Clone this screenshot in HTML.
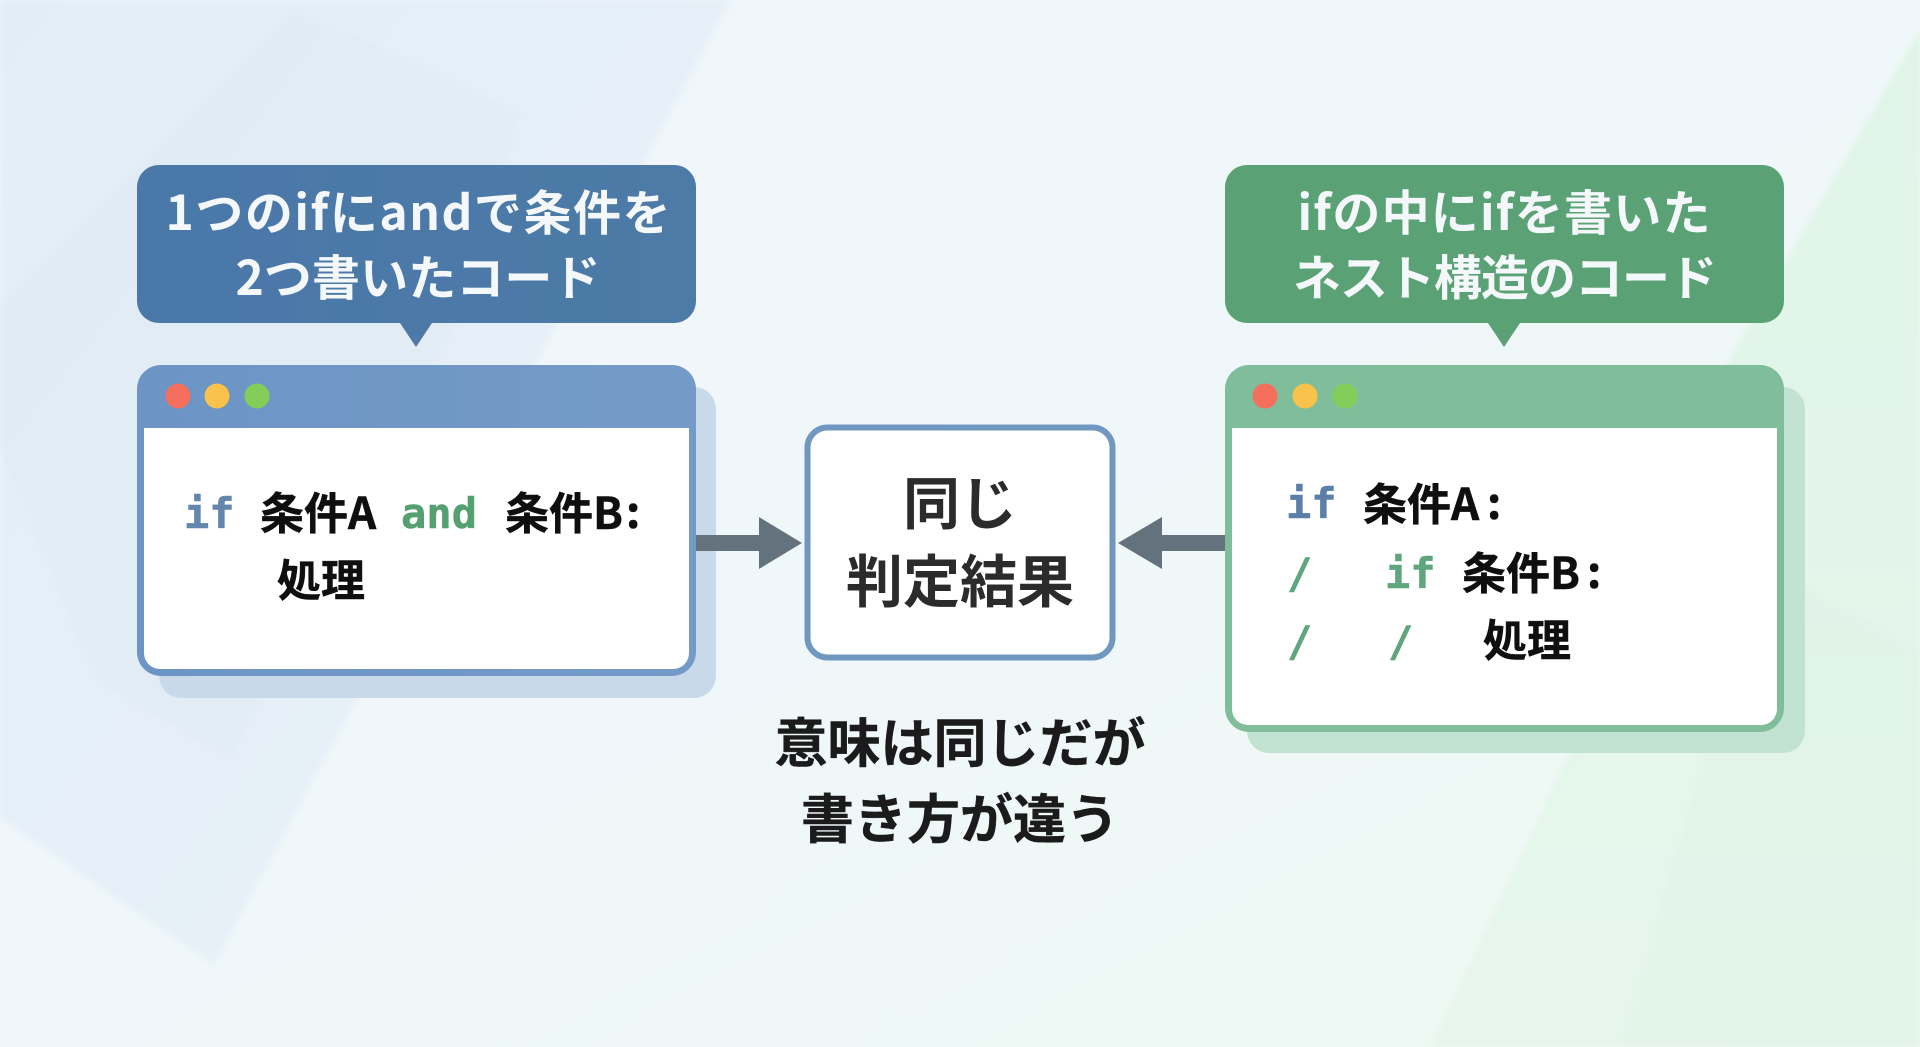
<!DOCTYPE html>
<html lang="ja">
<head>
<meta charset="utf-8">
<title>if and vs nested if</title>
<style>
html,body{margin:0;padding:0;width:1920px;height:1047px;overflow:hidden;background:#f0f6fa}
svg{display:block}
text{font-family:"Noto Sans CJK JP","Liberation Sans",sans-serif;font-weight:700}
.m{font-family:"DejaVu Sans Mono","Liberation Mono",monospace;font-weight:700;font-size:42px;stroke-width:.5px}
.c{font-size:44px;fill:#0f0f0f;stroke:#0f0f0f;stroke-width:.5px}
.h{font-size:48px;fill:#f4f8fa;text-anchor:middle;font-weight:700}
.big{font-size:57px;fill:#2b2b2b;text-anchor:middle}
.cap{font-size:53px;fill:#1b1b1b;text-anchor:middle;stroke:#1b1b1b;stroke-width:.4px}
</style>
</head>
<body>
<svg width="1920" height="1047" viewBox="0 0 1920 1047" xmlns="http://www.w3.org/2000/svg">
<defs>
<linearGradient id="bg" x1="0" y1="0" x2="1" y2="1">
<stop offset="0" stop-color="#eff5fb"/>
<stop offset=".5" stop-color="#f0f7fa"/>
<stop offset="1" stop-color="#edf8f1"/>
</linearGradient>
<linearGradient id="pa" x1="0" y1="0" x2="1" y2="1">
<stop offset="0" stop-color="#e2eef7"/>
<stop offset="1" stop-color="#e9f1f8"/>
</linearGradient>
<linearGradient id="pg" x1="0" y1="0" x2="0" y2="1">
<stop offset="0" stop-color="#e0f4e8"/>
<stop offset="1" stop-color="#e6f6ec"/>
</linearGradient>
<linearGradient id="tb" x1="0" y1="0" x2="1" y2="0">
<stop offset="0" stop-color="#6c94c5"/>
<stop offset="1" stop-color="#749bc8"/>
</linearGradient>
<linearGradient id="cb" x1="0" y1="0" x2="1" y2="0">
<stop offset="0" stop-color="#4a78a8"/>
<stop offset="1" stop-color="#4d7aa6"/>
</linearGradient>
<filter id="soft"><feGaussianBlur stdDeviation="3"/></filter>
</defs>
<rect width="1920" height="1047" fill="url(#bg)"/>
<polygon points="0,0 730,0 541,354 352,708 214,965 0,818" fill="url(#pa)" filter="url(#soft)"/>
<polygon points="295,8 520,112 470,300 230,760 95,680 0,450 0,300" fill="#dde8f3" opacity=".35" filter="url(#soft)"/>
<polygon points="1920,30 1920,1047 1431,1047 1569,755 1732,354" fill="url(#pg)" filter="url(#soft)"/>
<polygon points="1760,560 1920,650 1920,1047 1620,1047" fill="#dff2e5" opacity=".4" filter="url(#soft)"/>

<!-- left callout -->
<path d="M159 165H674a22 22 0 0 1 22 22V301a22 22 0 0 1-22 22H432L416 347 400 323H159a22 22 0 0 1-22-22V187a22 22 0 0 1 22-22Z" fill="url(#cb)"/>
<text class="h" x="418" y="230" textLength="505" lengthAdjust="spacing">1つのifにandで条件を</text>
<text class="h" x="418" y="295" textLength="365" lengthAdjust="spacing">2つ書いたコード</text>

<!-- left window -->
<rect x="159" y="387" width="557" height="311" rx="22" fill="#c8dae9"/>
<rect x="137" y="365" width="559" height="311" rx="24" fill="url(#tb)"/>
<path d="M144 428H689V653a16 16 0 0 1-16 16H160a16 16 0 0 1-16-16Z" fill="#fff"/>
<circle cx="178" cy="396" r="12.5" fill="#f46f5d"/>
<circle cx="217" cy="396" r="12.5" fill="#f9c24a"/>
<circle cx="257" cy="396" r="12.5" fill="#84cd58"/>
<text class="m" x="184" y="528" fill="#6486ad" stroke="#6486ad">if</text>
<text class="c" x="260" y="529">条件A</text>
<text class="m" x="401" y="528" fill="#54a070" stroke="#54a070" textLength="76">and</text>
<text class="c" x="505" y="529">条件B</text>
<text class="c" x="626" y="528">:</text>
<text class="c" x="277" y="596">処理</text>

<!-- right callout -->
<path d="M1247 165H1762a22 22 0 0 1 22 22V301a22 22 0 0 1-22 22H1520L1504 347 1488 323H1247a22 22 0 0 1-22-22V187a22 22 0 0 1 22-22Z" fill="#5aa276"/>
<text class="h" x="1504" y="230" textLength="413" lengthAdjust="spacing">ifの中にifを書いた</text>
<text class="h" x="1505" y="295" textLength="424" lengthAdjust="spacing">ネスト構造のコード</text>

<!-- right window -->
<rect x="1247" y="387" width="558" height="366" rx="22" fill="#c3e3d2"/>
<rect x="1225" y="365" width="559" height="367" rx="24" fill="#80bd9b"/>
<path d="M1232 428H1777V709a16 16 0 0 1-16 16H1248a16 16 0 0 1-16-16Z" fill="#fff"/>
<circle cx="1265" cy="396" r="12.5" fill="#f46f5d"/>
<circle cx="1305" cy="396" r="12.5" fill="#f9c24a"/>
<circle cx="1345" cy="396" r="12.5" fill="#84cd58"/>
<text class="m" x="1286" y="518" fill="#5b7fa9" stroke="#5b7fa9">if</text>
<text class="c" x="1363" y="520">条件A</text>
<text class="c" x="1487" y="519">:</text>
<text class="m" x="1287" y="588" fill="#5fa67f" stroke="#5fa67f">/</text>
<text class="m" x="1385" y="588" fill="#5fa67f" stroke="#5fa67f">if</text>
<text class="c" x="1462" y="589">条件B</text>
<text class="c" x="1587" y="588">:</text>
<text class="m" x="1287" y="656" fill="#5fa67f" stroke="#5fa67f">/</text>
<text class="m" x="1388" y="656" fill="#5fa67f" stroke="#5fa67f">/</text>
<text class="c" x="1483" y="656">処理</text>

<!-- arrows -->
<polygon points="696,535 759,535 759,517 802,543 759,569 759,551 696,551" fill="#63727d"/>
<polygon points="1225,535 1162,535 1162,517 1118,543 1162,569 1162,551 1225,551" fill="#63727d"/>

<!-- centre -->
<rect x="807.5" y="427.5" width="305" height="230" rx="20" fill="#fff" stroke="#6f97bf" stroke-width="6"/>
<text class="big" x="960" y="524">同じ</text>
<text class="big" x="960" y="602">判定結果</text>
<text class="cap" x="960" y="762">意味は同じだが</text>
<text class="cap" x="960" y="838">書き方が違う</text>
</svg>
</body>
</html>
